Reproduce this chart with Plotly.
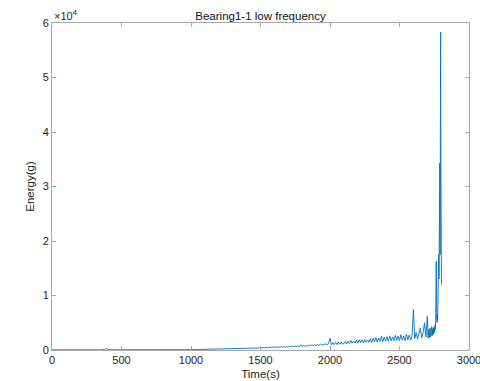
import plotly.graph_objects as go

# Coarse segment: one reading every 10 s from 0 to 2690 s
t_coarse = list(range(0, 2700, 10))
energy_coarse = [
    30, 25, 35, 28, 32, 30, 27, 33, 29, 31,
    30, 34, 28, 31, 26, 33, 30, 29, 32, 28,
    31, 27, 30, 35, 29, 32, 28, 30, 33, 27,
    30, 32, 29, 34, 31, 28, 36, 40, 120, 260,
    60, 35, 32, 30, 34, 29, 31, 33, 30, 32,
    34, 30, 36, 31, 33, 35, 30, 34, 37, 32,
    35, 38, 33, 36, 40, 34, 37, 39, 35, 38,
    40, 37, 42, 39, 44, 41, 38, 45, 42, 40,
    44, 47, 42, 48, 45, 50, 46, 49, 52, 48,
    52, 55, 50, 57, 54, 60, 56, 58, 62, 59,
    64, 70, 66, 75, 72, 80, 76, 85, 82, 90,
    95, 102, 98, 110, 105, 118, 112, 125, 120, 135,
    140, 150, 145, 162, 155, 170, 165, 182, 176, 190,
    200, 215, 205, 230, 220, 245, 235, 260, 250, 275,
    285, 300, 290, 320, 305, 340, 325, 355, 345, 370,
    480, 360, 450, 390, 500, 420, 520, 430, 560, 450,
    480, 580, 460, 600, 490, 650, 510, 620, 530, 600,
    540, 680, 580, 720, 600, 760, 620, 740, 650, 950,
    680, 800, 670, 850, 700, 900, 740, 920, 770, 980,
    800, 1000, 830, 1080, 860, 1100, 880, 1200, 920, 1250,
    2150, 950, 1350, 960, 1400, 1000, 1450, 1050, 1500, 1100,
    1150, 1550, 1100, 1600, 1200, 1750, 1250, 1650, 1300, 1800,
    1250, 1850, 1350, 1900, 1300, 1950, 1400, 1850, 1450, 2100,
    1350, 2150, 1500, 2300, 1450, 2200, 1600, 2500, 1550, 2350,
    1650, 2450, 1600, 2600, 1700, 2400, 1700, 2700, 1750, 2550,
    1700, 2800, 1800, 2600, 1700, 2900, 1850, 2750, 1800, 2500,
    7400, 2100, 3200, 2000, 3000, 4000, 2200, 3200, 5000, 2400,
]

# Fine segment: one reading every 2 s from 2700 to 2802 s
t_fine = list(range(2700, 2804, 2))
energy_fine = [
    6200, 2400, 3600, 2200, 3300, 2400, 3800, 2300, 3200, 2600,
    4000, 2400, 3500, 2500, 3700, 2700, 4300, 2600, 3600, 2800,
    3900, 2900, 4100, 3000, 3800, 3200, 4200, 3400, 4600, 3900,
    5200, 9000, 16300, 11000, 6000, 5000, 6500, 5500, 8000, 12000,
    10000, 17500, 13000, 25000, 20000, 34300, 17500, 30000, 58300, 34000,
    20000, 12000,
]

x_ticks = [0, 500, 1000, 1500, 2000, 2500, 3000]
y_ticks = [0, 10000, 20000, 30000, 40000, 50000, 60000]
y_tick_text = ["0", "1", "2", "3", "4", "5", "6"]

time_s = t_coarse + t_fine
energy = energy_coarse + energy_fine

font_family = "Liberation Sans, Arial, Helvetica, sans-serif"
axis_color = "#a8a8a8"
text_color = "#262626"

fig = go.Figure()
fig.add_trace(go.Scatter(
    x=time_s, y=energy, mode="lines",
    line=dict(color="#0072BD", width=0.9),
    showlegend=False,
))

axis_common = dict(
    showline=True, linecolor=axis_color, linewidth=1,
    mirror="ticks", ticks="inside", ticklen=4, tickcolor=axis_color,
    showgrid=False, zeroline=False, ticklabeloverflow="allow",
    automargin=False,
    tickfont=dict(family=font_family, size=11, color=text_color),
)

fig.update_layout(
    width=480, height=381,
    margin=dict(l=52, r=11, t=23, b=31),
    paper_bgcolor="white", plot_bgcolor="white",
    title=dict(
        text="Bearing1-1 low frequency",
        x=0.5, xanchor="center", y=1 - 15.5 / 381, yanchor="middle",
        xref="paper",
        font=dict(family=font_family, size=11.5, color="#111111"),
    ),
    xaxis=dict(
        range=[0, 3000], tickvals=x_ticks,
        title=dict(text="Time(s)", standoff=4,
                   font=dict(family=font_family, size=11.5, color=text_color)),
        **axis_common,
    ),
    yaxis=dict(
        range=[0, 60000], tickvals=y_ticks, ticktext=y_tick_text,
        title=dict(text="Energy(g)", standoff=5,
                   font=dict(family=font_family, size=11.5, color=text_color)),
        **axis_common,
    ),
    annotations=[dict(
        text="×10<sup>4</sup>", xref="paper", yref="paper",
        x=0, y=1, xanchor="left", yanchor="bottom", showarrow=False,
        yshift=-1,
        font=dict(family=font_family, size=11, color=text_color),
    )],
)

fig.write_html(
    "out.html",
    config={"displayModeBar": False},
    post_script="document.body.style.margin='0';document.body.style.overflow='hidden';",
)
